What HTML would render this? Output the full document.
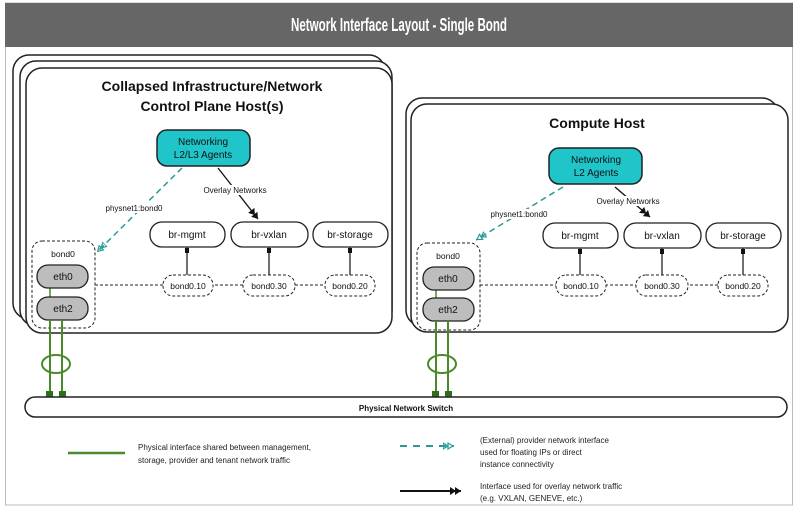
<!DOCTYPE html>
<html><head><meta charset="utf-8"><style>
html,body{margin:0;padding:0;background:#fff;}
svg{display:block;font-family:"Liberation Sans",sans-serif;}
</style></head><body>
<svg width="798" height="511" viewBox="0 0 798 511" xmlns="http://www.w3.org/2000/svg">
<defs>
<marker id="ab" viewBox="0 0 12 8" refX="11" refY="4" markerWidth="12" markerHeight="8" markerUnits="userSpaceOnUse" orient="auto">
<path d="M0,0 L6,4 L0,8 Z M5,0 L11,4 L5,8 Z" fill="#111"/></marker>
<marker id="at" viewBox="0 0 12 8" refX="11" refY="4" markerWidth="12" markerHeight="8" markerUnits="userSpaceOnUse" orient="auto">
<path d="M0,1 L5,4 L0,7 Z M5,1 L10,4 L5,7 Z" fill="none" stroke="#2a9a98" stroke-width="1.2"/></marker>
</defs>
<rect x="5.5" y="3" width="787" height="502" fill="#fff" stroke="#bbb"/>
<rect x="5" y="3" width="788" height="44" fill="#666"/>
<text x="399" y="31" fill="#fff" font-size="18" font-weight="bold" text-anchor="middle" textLength="216" lengthAdjust="spacingAndGlyphs">Network Interface Layout - Single Bond</text>

<g fill="#fff" stroke="#222" stroke-width="1.5">
<rect x="13" y="55" width="372" height="264" rx="16"/>
<rect x="20" y="61" width="372" height="265" rx="16"/>
<rect x="26" y="68" width="366" height="265" rx="16"/>
<rect x="406" y="98" width="372" height="228" rx="16"/>
<rect x="411" y="104" width="377" height="228" rx="16"/>
</g>
<g font-weight="bold" font-size="14" text-anchor="middle" fill="#111">
<text x="212" y="91">Collapsed Infrastructure/Network</text>
<text x="212" y="111">Control Plane Host(s)</text>
<text x="597" y="128">Compute Host</text>
</g>

<!-- left host internals -->
<line x1="182" y1="168" x2="97" y2="252" stroke="#2a9a98" stroke-width="1.5" stroke-dasharray="6,4" marker-end="url(#at)"/>
<line x1="218" y1="168" x2="258" y2="219" stroke="#111" stroke-width="1.3" marker-end="url(#ab)"/>
<rect x="108" y="203" width="52" height="10" fill="#fff"/>
<rect x="201" y="185" width="68" height="10" fill="#fff"/>
<rect x="157" y="130" width="93" height="36" rx="10" fill="#1fc5c9" stroke="#222" stroke-width="1.5"/>
<g font-size="10" text-anchor="middle" fill="#111"><text x="203" y="145">Networking</text><text x="203" y="158">L2/L3 Agents</text></g>
<g font-size="10" text-anchor="middle" fill="#111">
<rect x="150" y="222" width="75" height="25" rx="12" fill="#fff" stroke="#222" stroke-width="1.3"/><text x="187" y="238">br-mgmt</text>
<rect x="231" y="222" width="77" height="25" rx="12" fill="#fff" stroke="#222" stroke-width="1.3"/><text x="269" y="238">br-vxlan</text>
<rect x="313" y="222" width="75" height="25" rx="12" fill="#fff" stroke="#222" stroke-width="1.3"/><text x="350" y="238">br-storage</text>
<rect x="32" y="241" width="63" height="87" rx="10" fill="none" stroke="#222" stroke-dasharray="3,2"/>
<text x="63" y="257" font-size="8.5">bond0</text>
<line x1="50" y1="288" x2="50" y2="297" stroke="#4a8a2a" stroke-width="1.5"/>
<rect x="37" y="265" width="51" height="23" rx="11" fill="#bdbdbd" stroke="#222" stroke-width="1.3"/><text x="63" y="280">eth0</text>
<rect x="37" y="297" width="51" height="23" rx="11" fill="#bdbdbd" stroke="#222" stroke-width="1.3"/><text x="63" y="312">eth2</text>
<line x1="95" y1="285" x2="342" y2="285" stroke="#222" stroke-dasharray="3,2"/>
<g stroke="#222" stroke-width="1.3"><line x1="187" y1="247" x2="187" y2="275"/><line x1="269" y1="247" x2="269" y2="275"/><line x1="350" y1="247" x2="350" y2="275"/></g>
<rect x="185" y="248" width="4" height="5" fill="#111"/><rect x="267" y="248" width="4" height="5" fill="#111"/><rect x="348" y="248" width="4" height="5" fill="#111"/>
<g font-size="8.5"><rect x="163" y="275" width="50" height="21" rx="10" fill="#fff" stroke="#222" stroke-dasharray="3,2"/><text x="188" y="289">bond0.10</text>
<rect x="243" y="275" width="52" height="21" rx="10" fill="#fff" stroke="#222" stroke-dasharray="3,2"/><text x="269" y="289">bond0.30</text>
<rect x="325" y="275" width="50" height="21" rx="10" fill="#fff" stroke="#222" stroke-dasharray="3,2"/><text x="350" y="289">bond0.20</text></g>
<text x="134" y="211" font-size="8">physnet1:bond0</text>
<text x="235" y="193" font-size="8">Overlay Networks</text>
</g>

<!-- right host internals -->
<line x1="563" y1="187" x2="476" y2="240" stroke="#2a9a98" stroke-width="1.5" stroke-dasharray="6,4" marker-end="url(#at)"/>
<line x1="615" y1="187" x2="650" y2="217" stroke="#111" stroke-width="1.3" marker-end="url(#ab)"/>
<rect x="487" y="209" width="64" height="10" fill="#fff"/>
<rect x="594" y="196" width="68" height="10" fill="#fff"/>
<rect x="549" y="148" width="93" height="36" rx="10" fill="#1fc5c9" stroke="#222" stroke-width="1.5"/>
<g font-size="10" text-anchor="middle" fill="#111"><text x="596" y="163">Networking</text><text x="596" y="176">L2 Agents</text></g>
<g font-size="10" text-anchor="middle" fill="#111">
<rect x="543" y="223" width="75" height="25" rx="12" fill="#fff" stroke="#222" stroke-width="1.3"/><text x="580" y="239">br-mgmt</text>
<rect x="624" y="223" width="77" height="25" rx="12" fill="#fff" stroke="#222" stroke-width="1.3"/><text x="662" y="239">br-vxlan</text>
<rect x="706" y="223" width="75" height="25" rx="12" fill="#fff" stroke="#222" stroke-width="1.3"/><text x="743" y="239">br-storage</text>
<rect x="417" y="243" width="63" height="87" rx="10" fill="none" stroke="#222" stroke-dasharray="3,2"/>
<text x="448" y="259" font-size="8.5">bond0</text>
<line x1="436" y1="290" x2="436" y2="299" stroke="#4a8a2a" stroke-width="1.5"/>
<rect x="423" y="267" width="51" height="23" rx="11" fill="#bdbdbd" stroke="#222" stroke-width="1.3"/><text x="448" y="282">eth0</text>
<rect x="423" y="298" width="51" height="23" rx="11" fill="#bdbdbd" stroke="#222" stroke-width="1.3"/><text x="448" y="313">eth2</text>
<line x1="480" y1="285" x2="735" y2="285" stroke="#222" stroke-dasharray="3,2"/>
<g stroke="#222" stroke-width="1.3"><line x1="580" y1="248" x2="580" y2="275"/><line x1="662" y1="248" x2="662" y2="275"/><line x1="743" y1="248" x2="743" y2="275"/></g>
<rect x="578" y="249" width="4" height="5" fill="#111"/><rect x="660" y="249" width="4" height="5" fill="#111"/><rect x="741" y="249" width="4" height="5" fill="#111"/>
<g font-size="8.5"><rect x="556" y="275" width="50" height="21" rx="10" fill="#fff" stroke="#222" stroke-dasharray="3,2"/><text x="581" y="289">bond0.10</text>
<rect x="636" y="275" width="52" height="21" rx="10" fill="#fff" stroke="#222" stroke-dasharray="3,2"/><text x="662" y="289">bond0.30</text>
<rect x="718" y="275" width="50" height="21" rx="10" fill="#fff" stroke="#222" stroke-dasharray="3,2"/><text x="743" y="289">bond0.20</text></g>
<text x="519" y="217" font-size="8">physnet1:bond0</text>
<text x="628" y="204" font-size="8">Overlay Networks</text>
</g>

<!-- green physical links -->
<g stroke="#4a8a2a" stroke-width="2" fill="none">
<line x1="50" y1="320" x2="50" y2="397"/><line x1="62" y1="320" x2="62" y2="397"/>
<ellipse cx="56" cy="364" rx="14" ry="9"/>
<line x1="436" y1="321" x2="436" y2="397"/><line x1="448" y1="321" x2="448" y2="397"/>
<ellipse cx="442" cy="364" rx="14" ry="9"/>
</g>
<g fill="#2f6e1a"><rect x="46" y="391" width="7" height="7"/><rect x="59" y="391" width="7" height="7"/><rect x="432" y="391" width="7" height="7"/><rect x="445" y="391" width="7" height="7"/></g>
<rect x="25" y="397" width="762" height="20" rx="10" fill="#fff" stroke="#222" stroke-width="1.5"/>
<text x="406" y="411" font-size="8" font-weight="bold" text-anchor="middle" fill="#111">Physical Network Switch</text>

<!-- legend -->
<line x1="68" y1="453" x2="125" y2="453" stroke="#4a8a2a" stroke-width="2.5"/>
<g font-size="8" fill="#222"><text x="138" y="450">Physical interface shared between management,</text><text x="138" y="463">storage, provider and tenant network traffic</text>
<text x="480" y="443">(External) provider network interface</text><text x="480" y="455">used for floating IPs or direct</text><text x="480" y="467">instance connectivity</text>
<text x="480" y="489">Interface used for overlay network traffic</text><text x="480" y="501">(e.g. VXLAN, GENEVE, etc.)</text></g>
<line x1="400" y1="446" x2="454" y2="446" stroke="#2a9a98" stroke-width="2" stroke-dasharray="7,6" marker-end="url(#at)"/>
<line x1="400" y1="491" x2="461" y2="491" stroke="#111" stroke-width="2" marker-end="url(#ab)"/>
</svg>
</body></html>
